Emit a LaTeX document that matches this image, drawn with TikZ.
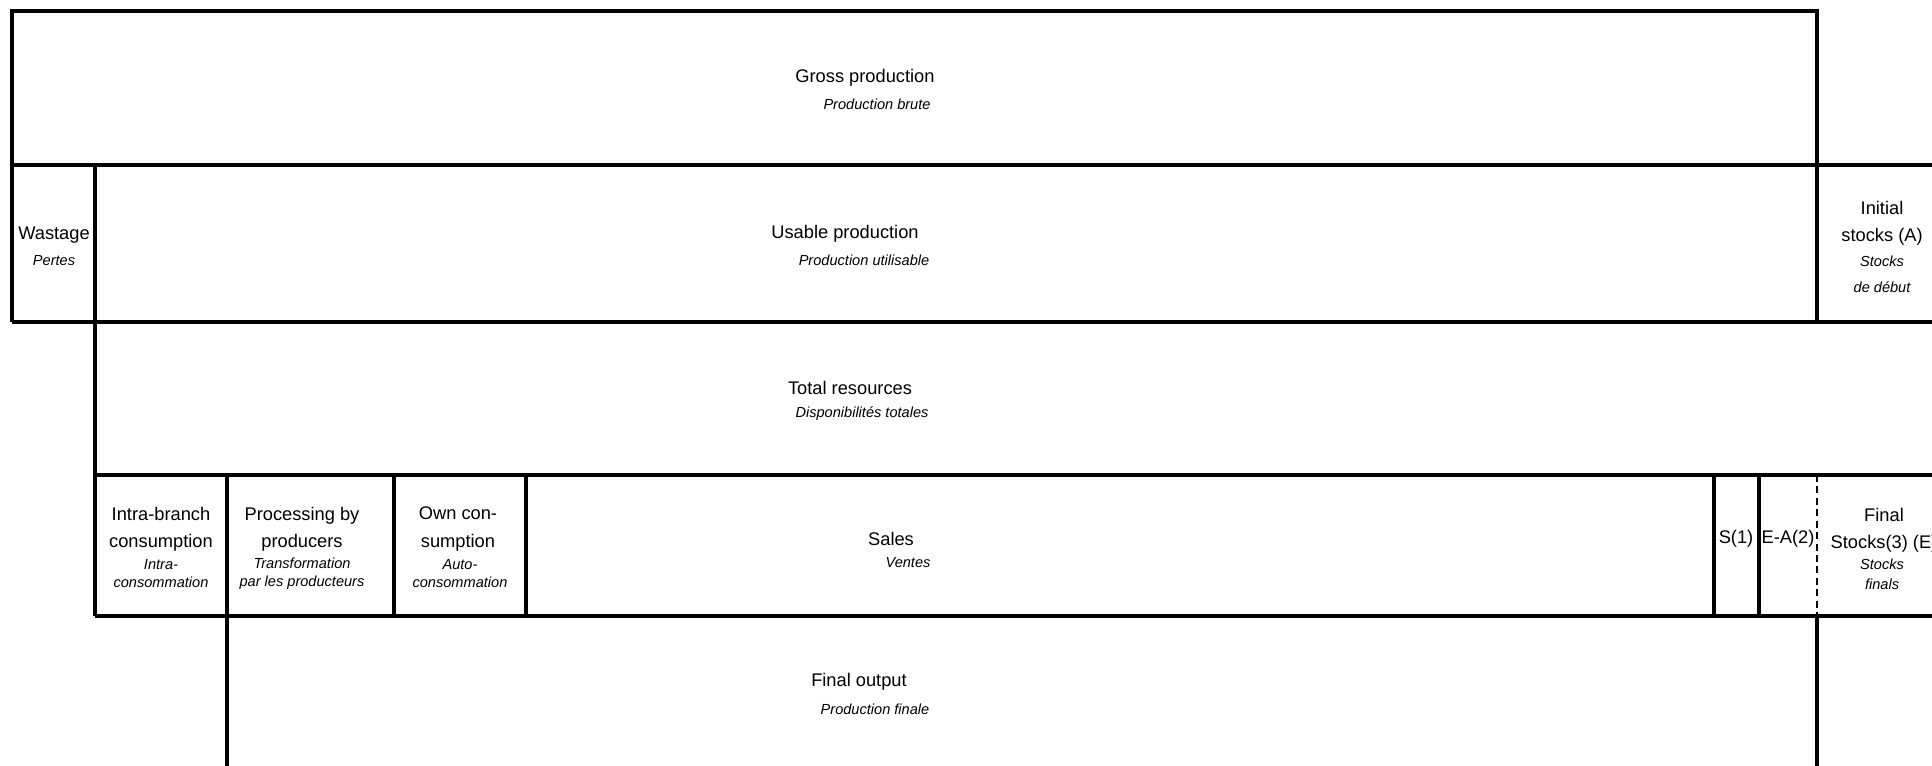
\documentclass[tikz,border=0pt]{standalone}
\usepackage{fontspec}
\setmainfont{Liberation Sans}
\tikzset{
  rule/.style={line width=1.8pt},
  dashrule/.style={line width=1.5pt, dash pattern=on 4pt off 2.5pt},
  entxt/.style={font=\fontsize{10.4}{15.4}\selectfont, align=center, inner sep=0pt},
  frtxt/.style={font=\fontsize{8.3}{10.2}\selectfont\itshape, align=center, inner sep=0pt}
}
\begin{document}
\begin{tikzpicture}[x=0.02cm, y=-0.02cm]
  \useasboundingbox (0,0) rectangle (1932,766);
  % grid of the balance
  \draw[rule] (12,322) -- (12,11) -- (1817,11) -- (1817,322);
  \draw[rule] (12,165) -- (1932,165);
  \draw[rule] (12,322) -- (1932,322);
  \draw[rule] (95,165) -- (95,616);
  \draw[rule] (95,475) -- (1932,475);
  \draw[rule] (95,616) -- (1932,616);
  \draw[rule] (227,475) -- (227,766);
  \draw[rule] (394,475) -- (394,616);
  \draw[rule] (526,475) -- (526,616);
  \draw[rule] (1714,475) -- (1714,616);
  \draw[rule] (1759,475) -- (1759,616);
  \draw[dashrule] (1817,475) -- (1817,616);
  \draw[rule] (1817,616) -- (1817,766);

  \node[entxt] (gross) at (865,78) {Gross production};
  \node[frtxt] (grossfr) at (877,104) {Production brute};
  \node[entxt] (waste) at (54,235) {Wastage};
  \node[frtxt] (wastefr) at (54,261) {Pertes};
  \node[entxt] (usable) at (845,234) {Usable production};
  \node[frtxt] (usablefr) at (864,260) {Production utilisable};
  \node[entxt] (init) at (1882,223) {Initial\\stocks (A)};
  \node[frtxt, font=\fontsize{8.3}{14.8}\selectfont\itshape] (initfr) at (1882,274) {Stocks\\de début};
  \node[entxt] (total) at (850,388) {Total resources};
  \node[frtxt] (totalfr) at (862,414) {Disponibilités totales};

  \node[entxt] (intra) at (161,529) {Intra-branch\\consumption};
  \node[frtxt] (intrafr) at (161,574) {Intra-\\consommation};
  \node[entxt] (proc) at (302,529) {Processing by\\producers};
  \node[frtxt] (procfr) at (302,574) {Transformation\\par les producteurs};
  \node[entxt] (own) at (458,529) {Own con-\\sumption};
  \node[frtxt] (ownfr) at (460,574) {Auto-\\consommation};
  \node[entxt] (sales) at (891,539) {Sales};
  \node[frtxt] (salesfr) at (908,563) {Ventes};
  \node[entxt] (s1) at (1736,539) {S(1)};
  \node[entxt] (ea) at (1788,539) {E-A(2)};
  \node[entxt] (final) at (1884,530) {Final\\Stocks(3) (E)};
  \node[frtxt, font=\fontsize{8.3}{11.4}\selectfont\itshape] (finalfr) at (1882,574) {Stocks\\finals};

  \node[entxt] (output) at (859,682) {Final output};
  \node[frtxt] (outputfr) at (875,709) {Production finale};
\end{tikzpicture}
\end{document}
